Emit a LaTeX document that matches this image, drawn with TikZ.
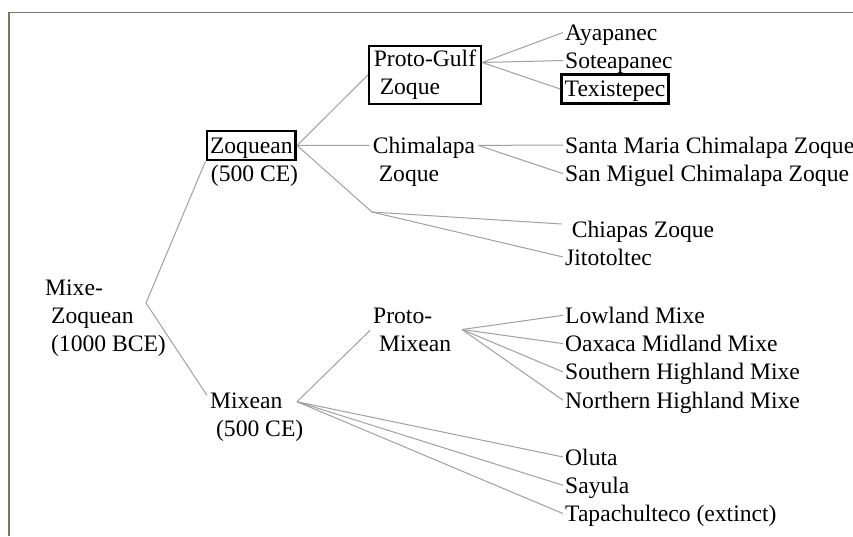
\documentclass[tikz,border=0pt]{standalone}
\usepackage{fontspec}
\setmainfont{Liberation Serif}
\definecolor{twig}{RGB}{160,160,160}
\definecolor{frameline}{RGB}{122,118,106}
\newcommand{\langsize}{\fontsize{23.6}{28.3}\selectfont}
\tikzset{
  lang/.style={font=\langsize, inner xsep=3pt, inner ysep=0pt, anchor=base west, align=left},
  leaf/.style={font=\langsize, inner xsep=2pt, inner ysep=0pt, text height=19pt, text depth=3pt, anchor=base west},
  boxed/.style={draw, line width=2.6pt, font=\langsize, inner xsep=3.2pt, inner ysep=3.9pt},
  oneline/.style={text height=18pt, text depth=3pt},
  branch/.style={draw=twig, line width=1pt}
}
\begin{document}
\begin{tikzpicture}[x=1pt, y=-1pt]
\useasboundingbox (0,0) rectangle (853,536);
\draw[frameline, line width=1.8pt] (853,12.5) -- (8.8,12.5) -- (8.8,536);

% root and first split (base = last line)
\node[lang] (mz) at (42,351.7) {Mixe-\\~Zoquean\\~(1000 BCE)};
\coordinate (mzj) at (146,303);
\node[boxed, oneline] (zoq) at (251.3,145.5) {Zoquean};
\node[lang] (zoqdate) at (207.7,181.7) {(500 CE)};
\node[lang] (mix) at (207,436.7) {Mixean\\~(500 CE)};
\coordinate (mxj) at (297,401.7);
\draw[branch] (mzj) -- (zoq.south west);
\draw[branch] (mzj) -- ([yshift=41.3pt]mix.base west);

% Zoquean
\node[boxed, align=left, inner xsep=4.7pt] (pg) at (425,75) {Proto-Gulf\\~Zoque};
\node[lang] (ch) at (369.7,181.7) {Chimalapa\\~Zoque};
\coordinate (zqj) at (372,212);
\draw[branch] (zoq.east) -- (pg.west);
\draw[branch] (zoq.east) -- ([yshift=36.3pt]ch.base west);
\draw[branch] (zoq.east) -- (zqj);

\coordinate (pgj) at ([yshift=12.5pt]pg.east);
\node[leaf] (ayapanec) at (563,40.5) {Ayapanec};
\node[leaf] (soteapanec) at (563,68.5) {Soteapanec};
\node[boxed, oneline] (texistepec) at (615,89) {Texistepec};
\foreach \n in {ayapanec, soteapanec, texistepec}
  \draw[branch] (pgj) -- (\n.west);

\coordinate (chj) at ([yshift=36.3pt]ch.base east);
\node[leaf] (santamaria) at (563,153) {Santa Maria Chimalapa Zoque};
\node[leaf] (sanmiguel) at (563,181.7) {San Miguel Chimalapa Zoque};
\foreach \n in {santamaria, sanmiguel}
  \draw[branch] (chj) -- (\n.west);

\node[leaf] (chiapas) at (569.7,237.5) {Chiapas Zoque};
\node[leaf] (jitotoltec) at (563,265) {Jitotoltec};
\draw[branch] (zqj) -- ([xshift=-8pt,yshift=5.5pt]chiapas.west);
\draw[branch] (zqj) -- (jitotoltec.west);

% Mixean
\node[lang] (pm) at (370,351.7) {Proto-\\~Mixean};
\coordinate (pmj) at (462,329.5);
\draw[branch] (mxj) -- ([yshift=21.3pt]pm.base west);

\foreach \n/\t [count=\i] in {lowland/Lowland Mixe, oaxaca/Oaxaca Midland Mixe, southern/Southern Highland Mixe, northern/Northern Highland Mixe}{
  \node[leaf] (\n) at (563,{295+28.3*\i}) {\t};
  \draw[branch] (pmj) -- (\n.west);
}
\foreach \n/\t [count=\i] in {oluta/Oluta, sayula/Sayula, tapachulteco/Tapachulteco (extinct)}{
  \node[leaf] (\n) at (563,{436.7+28.3*\i}) {\t};
  \draw[branch] (mxj) -- (\n.west);
}

\end{tikzpicture}
\end{document}
